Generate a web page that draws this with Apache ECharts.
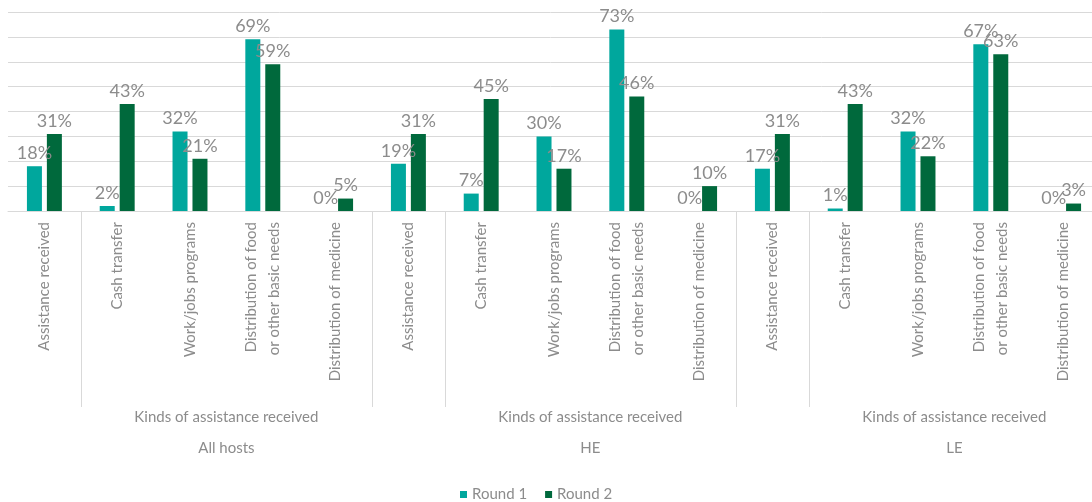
<!DOCTYPE html>
<html>
<head>
<meta charset="utf-8">
<script src="https://cdn.jsdelivr.net/npm/echarts@6/dist/echarts.min.js"></script>
<style>
html,body{margin:0;padding:0;background:#fff;}
#chart{width:1092px;height:502px;}
</style>
</head>
<body>
<div id="chart"></div>
<script>
// ---- data ----
const kinds = ['Assistance received', 'Cash transfer', 'Work/jobs programs', 'Distribution of food\nor other basic needs', 'Distribution of medicine'];
const groups = ['All hosts', 'HE', 'LE'];
const subGroupLabel = 'Kinds of assistance received';
const seriesNames = ['Round 1', 'Round 2'];
const round1 = [18, 2, 32, 69, 0, 19, 7, 30, 73, 0, 17, 1, 32, 67, 0];
const round2 = [31, 43, 21, 59, 5, 31, 45, 17, 46, 10, 31, 43, 22, 63, 3];
const yTicks = [0, 10, 20, 30, 40, 50, 60, 70, 80];

// ---- build ----
const categories = [];
groups.forEach(() => kinds.forEach(k => categories.push(k)));

// boundary axis: 16 points at category boundaries
const boundaryData = [];
for (let i = 0; i <= categories.length; i++) boundaryData.push('');
const sepIdx = [];
const labelIdx = {};
groups.forEach((g, gi) => {
  const start = gi * kinds.length;
  sepIdx.push(start + 1, start + kinds.length);
  labelIdx[(start + 1 + start + kinds.length) / 2] = subGroupLabel + '\n' + g;
});
Object.keys(labelIdx).forEach(k => { boundaryData[k] = labelIdx[k]; });

const FONT = 'Lato';
const GRAY = '#8c8c8c';
const LINE = '#d9d9d9';

const chart = echarts.init(document.getElementById('chart'));
chart.setOption({
  animation: false,
  textStyle: { fontFamily: FONT },
  grid: { left: 8, width: 1092, top: 12, height: 199, containLabel: false, outerBoundsMode: 'none' },
  legend: {
    left: 455, top: 482,
    itemWidth: 7, itemHeight: 7, itemGap: 18,
    icon: 'rect',
    textStyle: { color: GRAY, fontSize: 15, fontFamily: FONT },
    data: seriesNames
  },
  xAxis: [
    {
      type: 'category', data: categories, position: 'bottom',
      axisLine: { lineStyle: { color: LINE, width: 1 } },
      axisTick: { show: false },
      axisLabel: { rotate: 90, interval: 0, margin: 11, color: GRAY, fontSize: 15, fontFamily: FONT, lineHeight: 23 }
    },
    {
      type: 'category', data: boundaryData, position: 'bottom', boundaryGap: false,
      axisLine: { show: false },
      axisTick: { show: true, length: 196, lineStyle: { color: LINE }, interval: (i) => sepIdx.indexOf(i) >= 0 },
      axisLabel: { interval: 0, margin: 191, color: GRAY, fontSize: 15, fontFamily: FONT, lineHeight: 31, hideOverlap: false }
    }
  ],
  yAxis: {
    type: 'value', min: yTicks[0], max: yTicks[yTicks.length - 1], interval: yTicks[1] - yTicks[0],
    axisLabel: { show: false }, axisLine: { show: false }, axisTick: { show: false },
    splitLine: { lineStyle: { color: LINE, width: 1 } }
  },
  series: [
    {
      name: seriesNames[0], type: 'bar', data: round1, barWidth: 15, barGap: '33%',
      itemStyle: { color: '#00A79D' },
      label: { show: true, position: 'top', distance: 4, formatter: p => p.value + '%', color: GRAY, fontSize: 18, fontFamily: FONT }
    },
    {
      name: seriesNames[1], type: 'bar', data: round2, barWidth: 15, barGap: '33%',
      itemStyle: { color: '#00693C' },
      label: { show: true, position: 'top', distance: 4, formatter: p => p.value + '%', color: GRAY, fontSize: 18, fontFamily: FONT }
    }
  ]
});
</script>
</body>
</html>
